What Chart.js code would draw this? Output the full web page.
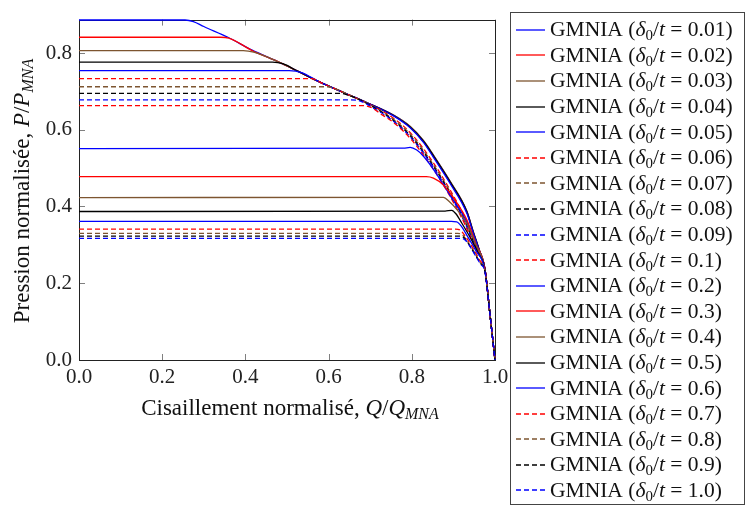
<!DOCTYPE html>
<html>
<head>
<meta charset="utf-8">
<script src="https://cdn.jsdelivr.net/npm/chart.js@4.4.1/dist/chart.umd.min.js"></script>
<style>
  html, body { margin: 0; padding: 0; background: #fff; }
  #wrap { position: relative; width: 745px; height: 505px; overflow: hidden; font-family: 'Liberation Serif', 'DejaVu Serif', serif; color: #111; }
  #c { position: absolute; left: 0; top: 0; }
  .ttl { position: absolute; font-size: 23px; line-height: 24px; text-align: center; white-space: nowrap; }
  .ttl sub { font-size: 16px; vertical-align: -4px; line-height: 0; }
  #legend sub { font-size: 15px; vertical-align: -4px; line-height: 0; }
  #ytitle { left: -178px; top: 179px; width: 400px; transform: rotate(-90deg); }
  #xtitle { left: 82px; top: 396px; width: 416px; }
  #legend { position: absolute; left: 510px; top: 12px; width: 233px; height: 487px; border: 1px solid #444; box-sizing: content-box; padding-top: 4px; }
  .row { height: 25.6px; display: flex; align-items: center; font-size: 21.5px; white-space: nowrap; }
  .row svg { margin-left: 5px; margin-right: 5px; flex: none; }
</style>
</head>
<body>
<div id="wrap">
  <canvas id="c" width="745" height="505"></canvas>
  <div id="ytitle" class="ttl">Pression normalisée, <i>P</i>/<i>P</i><sub><i>MNA</i></sub></div>
  <div id="xtitle" class="ttl">Cisaillement normalisé, <i>Q</i>/<i>Q</i><sub><i>MNA</i></sub></div>
  <div id="legend"></div>
</div>
<script>
// ---- tick labels ----
const xTickVals = [0, 0.2, 0.4, 0.6, 0.8, 1.0];
const yTickVals = [0, 0.2, 0.4, 0.6, 0.8];

// ---- legend labels (delta0/t) ----
const imperfections = ['0.01','0.02','0.03','0.04','0.05','0.06','0.07','0.08','0.09','0.1',
                       '0.2','0.3','0.4','0.5','0.6','0.7','0.8','0.9','1.0'];

// ---- series: Q/Q_MNA (x) and P/P_MNA (y) ----
const q001 = [0, 0.255, 0.275, 0.30, 0.358, 0.415, 0.483, 0.523, 0.579, 0.64, 0.691, 0.756, 0.796, 0.828, 0.852, 0.892, 0.932, 0.948, 0.962, 0.976, 0.988, 1.0];
const p001 = [0.886, 0.886, 0.882, 0.869, 0.841, 0.808, 0.775, 0.754, 0.724, 0.695, 0.671, 0.638, 0.608, 0.571, 0.533, 0.465, 0.388, 0.333, 0.287, 0.236, 0.118, 0.0];
const q002 = [0, 0.34, 0.36, 0.415, 0.483, 0.523, 0.579, 0.64, 0.691, 0.756, 0.796, 0.828, 0.852, 0.892, 0.932, 0.948, 0.962, 0.976, 0.988, 1.0];
const p002 = [0.841, 0.841, 0.839, 0.807, 0.775, 0.754, 0.724, 0.695, 0.671, 0.637, 0.607, 0.569, 0.531, 0.463, 0.386, 0.331, 0.286, 0.235, 0.118, 0.0];
const q003 = [0, 0.395, 0.42, 0.483, 0.523, 0.579, 0.64, 0.691, 0.756, 0.796, 0.828, 0.852, 0.892, 0.932, 0.948, 0.962, 0.976, 0.988, 1.0];
const p003 = [0.806, 0.806, 0.802, 0.775, 0.754, 0.724, 0.695, 0.671, 0.638, 0.609, 0.572, 0.534, 0.466, 0.389, 0.334, 0.288, 0.236, 0.118, 0.0];
const q004 = [0, 0.465, 0.49, 0.523, 0.579, 0.64, 0.691, 0.756, 0.796, 0.828, 0.852, 0.892, 0.932, 0.948, 0.962, 0.976, 0.988, 1.0];
const p004 = [0.776, 0.776, 0.772, 0.754, 0.724, 0.695, 0.671, 0.637, 0.607, 0.570, 0.532, 0.464, 0.387, 0.332, 0.287, 0.235, 0.118, 0.0];
const q005 = [0, 0.505, 0.535, 0.579, 0.64, 0.691, 0.756, 0.796, 0.828, 0.852, 0.892, 0.932, 0.948, 0.962, 0.976, 0.988, 1.0];
const p005 = [0.754, 0.754, 0.749, 0.724, 0.695, 0.671, 0.636, 0.605, 0.567, 0.528, 0.460, 0.383, 0.330, 0.285, 0.235, 0.118, 0.0];
const q006 = [0, 0.56, 0.585, 0.64, 0.691, 0.756, 0.80, 0.85, 0.89, 0.93, 0.95, 0.976, 0.988, 1.0];
const p006 = [0.733, 0.733, 0.721, 0.695, 0.670, 0.630, 0.588, 0.517, 0.447, 0.365, 0.310, 0.235, 0.118, 0.0];
const q007 = [0, 0.595, 0.62, 0.66, 0.70, 0.756, 0.80, 0.85, 0.89, 0.93, 0.95, 0.976, 0.988, 1.0];
const p007 = [0.712, 0.712, 0.705, 0.685, 0.665, 0.627, 0.584, 0.512, 0.442, 0.360, 0.306, 0.234, 0.118, 0.0];
const q008 = [0, 0.625, 0.65, 0.70, 0.756, 0.80, 0.85, 0.89, 0.93, 0.95, 0.976, 0.988, 1.0];
const p008 = [0.695, 0.695, 0.689, 0.664, 0.624, 0.580, 0.508, 0.438, 0.356, 0.303, 0.233, 0.118, 0.0];
const q009 = [0, 0.65, 0.675, 0.71, 0.756, 0.80, 0.85, 0.89, 0.93, 0.95, 0.976, 0.988, 1.0];
const p009 = [0.678, 0.678, 0.675, 0.655, 0.622, 0.577, 0.505, 0.434, 0.352, 0.300, 0.232, 0.118, 0.0];
const q010 = [0, 0.675, 0.70, 0.73, 0.756, 0.80, 0.85, 0.89, 0.93, 0.95, 0.976, 0.988, 1.0];
const p010 = [0.663, 0.663, 0.659, 0.638, 0.619, 0.573, 0.500, 0.430, 0.348, 0.297, 0.231, 0.118, 0.0];
const q020 = [0, 0.78, 0.796, 0.812, 0.828, 0.852, 0.892, 0.932, 0.955, 0.976, 0.988, 1.0];
const p020 = [0.551, 0.552, 0.554, 0.547, 0.531, 0.497, 0.429, 0.361, 0.300, 0.237, 0.118, 0.0];
const q030 = [0, 0.835, 0.852, 0.876, 0.908, 0.932, 0.955, 0.976, 0.988, 1.0];
const p030 = [0.478, 0.478, 0.474, 0.456, 0.410, 0.366, 0.300, 0.237, 0.118, 0.0];
const q040 = [0, 0.86, 0.876, 0.89, 0.91, 0.932, 0.955, 0.976, 0.988, 1.0];
const p040 = [0.423, 0.424, 0.424, 0.413, 0.390, 0.356, 0.298, 0.236, 0.118, 0.0];
const q050 = [0, 0.88, 0.896, 0.906, 0.92, 0.94, 0.96, 0.976, 0.988, 1.0];
const p050 = [0.387, 0.388, 0.390, 0.381, 0.357, 0.320, 0.278, 0.235, 0.118, 0.0];
const q060 = [0, 0.895, 0.908, 0.918, 0.935, 0.955, 0.976, 0.988, 1.0];
const p060 = [0.361, 0.361, 0.360, 0.350, 0.320, 0.283, 0.233, 0.118, 0.0];
const q070 = [0, 0.905, 0.917, 0.927, 0.945, 0.962, 0.976, 0.988, 1.0];
const p070 = [0.341, 0.341, 0.338, 0.325, 0.295, 0.262, 0.232, 0.118, 0.0];
const q080 = [0, 0.91, 0.922, 0.932, 0.948, 0.963, 0.976, 0.988, 1.0];
const p080 = [0.330, 0.330, 0.326, 0.312, 0.285, 0.256, 0.231, 0.118, 0.0];
const q090 = [0, 0.913, 0.925, 0.935, 0.95, 0.964, 0.976, 0.988, 1.0];
const p090 = [0.323, 0.323, 0.319, 0.305, 0.279, 0.253, 0.230, 0.118, 0.0];
const q100 = [0, 0.916, 0.928, 0.938, 0.952, 0.965, 0.976, 0.988, 1.0];
const p100 = [0.317, 0.317, 0.313, 0.299, 0.274, 0.250, 0.229, 0.118, 0.0];

const seriesX = [q001,q002,q003,q004,q005,q006,q007,q008,q009,q010,q020,q030,q040,q050,q060,q070,q080,q090,q100];
const seriesY = [p001,p002,p003,p004,p005,p006,p007,p008,p009,p010,p020,p030,p040,p050,p060,p070,p080,p090,p100];

// ---- styles ----
const BLUE = '#0000ff', RED = '#ff0000', BROWN = '#7d5530', BLACK = '#000000';
const seriesColors = [BLUE, RED, BROWN, BLACK, BLUE, RED, BROWN, BLACK, BLUE, RED,
                      BLUE, RED, BROWN, BLACK, BLUE, RED, BROWN, BLACK, BLUE];
const seriesDashed = [false,false,false,false,false,true,true,true,true,true,
                      false,false,false,false,false,true,true,true,true];
const DASH = [5, 3];

const datasets = imperfections.map((lab, i) => ({
  label: 'GMNIA (δ0/t = ' + lab + ')',
  data: seriesX[i].map((x, k) => ({ x: x, y: seriesY[i][k] })),
  borderColor: seriesColors[i],
  backgroundColor: seriesColors[i],
  borderWidth: 1.3,
  borderDash: seriesDashed[i] ? DASH : [],
  showLine: true,
  pointRadius: 0,
  cubicInterpolationMode: 'monotone',
  fill: false,
  clip: 2,
  order: -i
}));

const frameTicks = {
  id: 'frameTicks',
  beforeDatasetsDraw(chart) {
    const { ctx, chartArea: a, scales } = chart;
    ctx.save();
    ctx.strokeStyle = '#808080';
    ctx.lineWidth = 1;
    const L = 6;
    xTickVals.forEach(v => {
      const px = Math.round(scales.x.getPixelForValue(v)) + 0.5;
      ctx.beginPath();
      ctx.moveTo(px, a.bottom); ctx.lineTo(px, a.bottom - L);
      ctx.moveTo(px, a.top); ctx.lineTo(px, a.top + L);
      ctx.stroke();
    });
    yTickVals.forEach(v => {
      const py = Math.round(scales.y.getPixelForValue(v)) + 0.5;
      ctx.beginPath();
      ctx.moveTo(a.left, py); ctx.lineTo(a.left + L, py);
      ctx.moveTo(a.right, py); ctx.lineTo(a.right - L, py);
      ctx.stroke();
    });
    ctx.strokeStyle = '#222';
    ctx.lineWidth = 1;
    ctx.strokeRect(Math.round(a.left) + 0.5, Math.round(a.top) + 0.5, Math.round(a.right - a.left), Math.round(a.bottom - a.top));
    ctx.restore();
  }
};

const tickFont = { family: "'Liberation Serif', 'DejaVu Serif', serif", size: 21 };

new Chart(document.getElementById('c'), {
  type: 'scatter',
  data: { datasets: datasets },
  options: {
    responsive: false,
    animation: false,
    devicePixelRatio: 1,
    layout: { padding: { left: 0, right: 250, top: 12, bottom: 0 } },
    plugins: { legend: { display: false }, tooltip: { enabled: false } },
    scales: {
      x: {
        type: 'linear', min: 0, max: 1,
        afterBuildTicks: s => { s.ticks = xTickVals.map(v => ({ value: v })); },
        afterFit: s => { s.height = 145; },
        grid: { display: false, drawTicks: false },
        border: { display: false },
        ticks: { font: tickFont, color: '#222', padding: 5, maxRotation: 0, autoSkip: false,
                 callback: v => Number(v).toFixed(1) }
      },
      y: {
        type: 'linear', min: 0, max: 0.887,
        afterBuildTicks: s => { s.ticks = yTickVals.map(v => ({ value: v })); },
        afterFit: s => { s.width = 79; },
        grid: { display: false, drawTicks: false },
        border: { display: false },
        ticks: { font: tickFont, color: '#222', padding: 7, autoSkip: false,
                 callback: v => Number(v).toFixed(1) }
      }
    }
  },
  plugins: [frameTicks]
});

// ---- HTML legend built from the datasets ----
const legend = document.getElementById('legend');
datasets.forEach((d, i) => {
  const row = document.createElement('div');
  row.className = 'row';
  const dash = seriesDashed[i] ? ' stroke-dasharray="' + DASH.join(',') + '"' : '';
  row.innerHTML = '<svg width="29" height="10"><line x1="0" y1="5" x2="29" y2="5" stroke="' + d.borderColor +
    '" stroke-width="1.3"' + dash + '/></svg>' +
    '<span>GMNIA&nbsp;(<i>δ</i><sub>0</sub>/<i>t</i>&nbsp;=&nbsp;' + imperfections[i] + ')</span>';
  legend.appendChild(row);
});
</script>
</body>
</html>
